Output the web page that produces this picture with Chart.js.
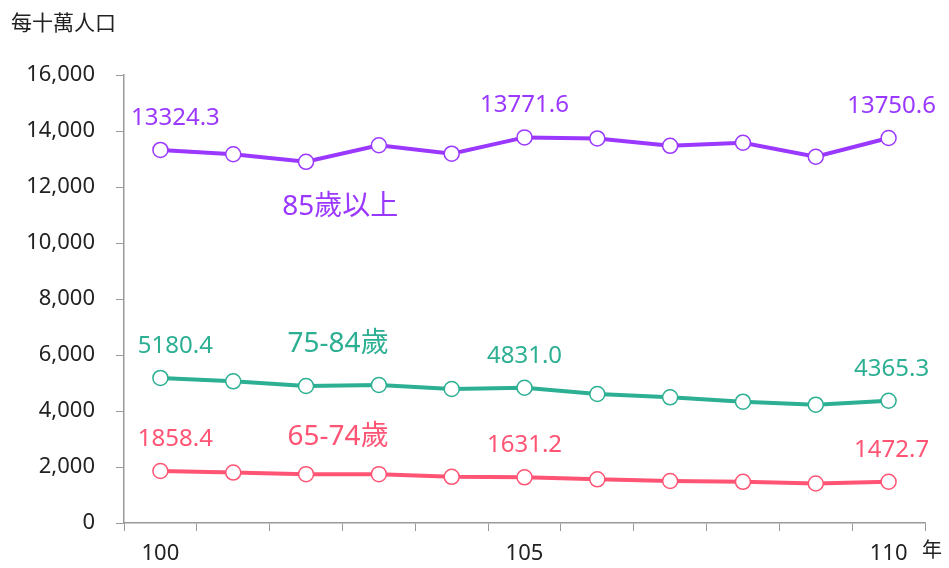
<!DOCTYPE html>
<html>
<head>
<meta charset="utf-8">
<script src="https://cdn.jsdelivr.net/npm/chart.js@4"></script>
<style>
html,body{margin:0;padding:0;background:#fff;}
#wrap{width:949px;height:568px;}
</style>
</head>
<body>
<div id="wrap"><canvas id="c" width="949" height="568"></canvas></div>
<script>
// ---- data ----
const years = ['100','101','102','103','104','105','106','107','108','109','110'];
const shownYearLabels = ['100','105','110'];
const age85plus = [13324.3, 13170, 12900, 13490, 13190, 13771.6, 13735, 13470, 13580, 13080, 13750.6];
const age75to84 = [5180.4, 5060, 4893, 4929, 4786, 4831.0, 4607, 4488, 4333, 4226, 4365.3];
const age65to74 = [1858.4, 1800, 1745, 1745, 1650, 1631.2, 1560, 1500, 1470, 1410, 1472.7];
const labeledIndices = [0, 5, 10];
const yTicks = [0, 2000, 4000, 6000, 8000, 10000, 12000, 14000, 16000];
const seriesNames = ['85歲以上', '75-84歲', '65-74歲'];
const seriesNamePos = [[2.47, 11290], [2.44, 6375], [2.44, 3055]];
const yAxisTitle = '每十萬人口';
const xAxisUnit = '年';

const colors = ['#9B38FF', '#2CAF92', '#FF5474'];
const FONT = "'Noto Sans', 'Noto Sans CJK TC', sans-serif";
const labelXOffsets = [15, 0, 3];

const seriesData = [age85plus, age75to84, age65to74];

const extraText = {
  id: 'extraText',
  afterDatasetsDraw(chart) {
    const ctx = chart.ctx;
    const xs = chart.scales.x, ys = chart.scales.y;
    ctx.save();
    // value labels
    ctx.font = '24px ' + FONT;
    ctx.textAlign = 'center';
    ctx.textBaseline = 'middle';
    chart.data.datasets.forEach((ds, di) => {
      const meta = chart.getDatasetMeta(di);
      ctx.fillStyle = colors[di];
      labeledIndices.forEach((idx, k) => {
        const el = meta.data[idx];
        ctx.fillText(ds.data[idx].toFixed(1), el.x + labelXOffsets[k], el.y - 32);
      });
    });
    // series names
    ctx.font = '28px ' + FONT;
    seriesNames.forEach((name, i) => {
      ctx.fillStyle = colors[i];
      ctx.fillText(name, xs.getPixelForValue(seriesNamePos[i][0]), ys.getPixelForValue(seriesNamePos[i][1]));
    });
    // axis titles
    ctx.fillStyle = '#222';
    ctx.font = '21px ' + FONT;
    ctx.textAlign = 'left';
    ctx.fillText(yAxisTitle, 11, 24);
    ctx.font = '20px ' + FONT;
    ctx.textAlign = 'center';
    ctx.fillText(xAxisUnit, xs.right + 7, 551);
    ctx.restore();
  }
};

new Chart(document.getElementById('c'), {
  type: 'line',
  data: {
    labels: years,
    datasets: seriesData.map((d, i) => ({
      label: seriesNames[i],
      data: d,
      borderColor: colors[i],
      borderWidth: 4,
      pointRadius: 7.5,
      pointHoverRadius: 7.5,
      pointBorderWidth: 1.5,
      pointBackgroundColor: '#fff',
      pointBorderColor: colors[i],
      tension: 0,
      fill: false
    }))
  },
  options: {
    responsive: false,
    animation: false,
    devicePixelRatio: 1,
    layout: { padding: { left: 0, right: 24, top: 75, bottom: 0 } },
    plugins: { legend: { display: false }, tooltip: { enabled: false } },
    scales: {
      x: {
        type: 'category',
        offset: true,
        grid: { offset: true, drawOnChartArea: false, drawTicks: true, tickLength: 8, color: '#9a9a9a', lineWidth: 1 },
        border: { display: true, color: '#9a9a9a', width: 1.5 },
        ticks: {
          autoSkip: false, maxRotation: 0, minRotation: 0, padding: 10,
          color: '#222', font: { family: FONT, size: 22 },
          callback: function(v, i) { const l = this.getLabelForValue(v); return shownYearLabels.includes(l) ? l : ''; }
        },
        afterFit(s) { s.height = 45; }
      },
      y: {
        min: 0, max: 16000,
        afterBuildTicks(s) { s.ticks = yTicks.map(v => ({ value: v })); },
        grid: { drawOnChartArea: false, drawTicks: true, tickLength: 8, color: '#9a9a9a', lineWidth: 1 },
        border: { display: true, color: '#9a9a9a', width: 1.5 },
        ticks: {
          padding: 21, color: '#222', font: { family: FONT, size: 22 },
          callback: v => v.toLocaleString('en-US')
        },
        afterFit(s) { s.width = 124; }
      }
    }
  },
  plugins: [extraText]
});
</script>
</body>
</html>
